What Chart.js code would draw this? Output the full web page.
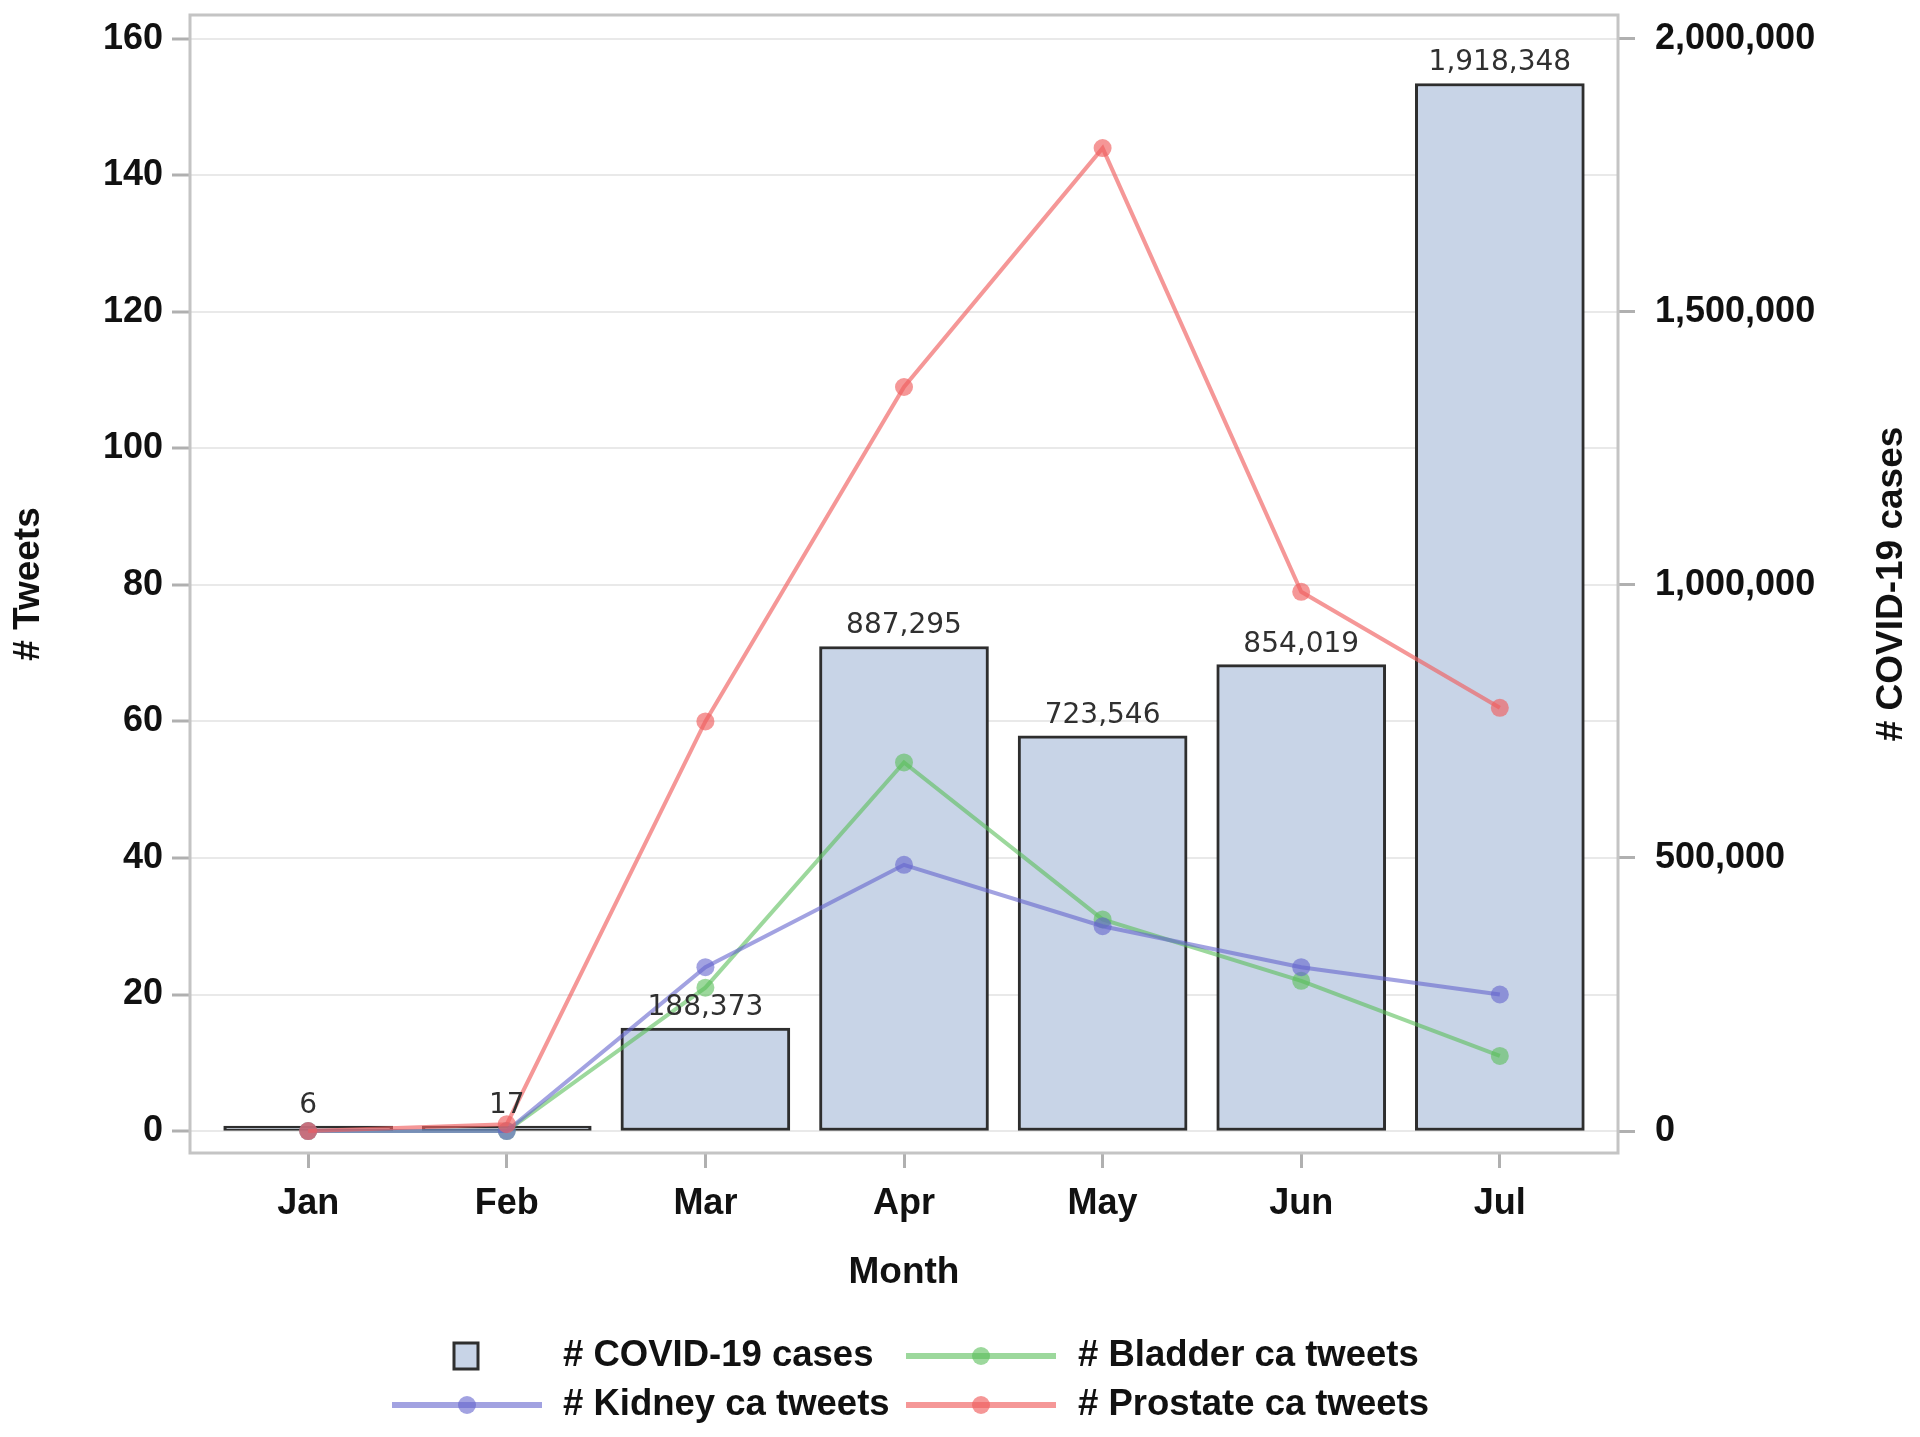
<!DOCTYPE html>
<html>
<head>
<meta charset="utf-8">
<script src="https://cdn.jsdelivr.net/npm/chart.js@4.4.1/dist/chart.umd.min.js"></script>
<style>
  html, body { margin: 0; padding: 0; background: #fff; }
  #wrap { width: 1920px; height: 1437px; position: relative; }
</style>
</head>
<body>
<div id="wrap"><canvas id="chart"></canvas></div>
<script>
const MONTHS = ['Jan', 'Feb', 'Mar', 'Apr', 'May', 'Jun', 'Jul'];
const COVID_CASES = [6, 17, 188373, 887295, 723546, 854019, 1918348];
const BLADDER_TWEETS = [0, 0, 21, 54, 31, 22, 11];
const KIDNEY_TWEETS = [0, 0, 24, 39, 30, 24, 20];
const PROSTATE_TWEETS = [0, 1, 60, 109, 144, 79, 62];
const TWEET_TICKS = [0, 20, 40, 60, 80, 100, 120, 140, 160];
const CASE_TICKS = [0, 500000, 1000000, 1500000, 2000000];

const BAR_FILL = '#c8d4e7';
const BAR_EDGE = '#2e2e2e';
const RED = 'rgba(240, 96, 96, 0.65)';
const GREEN = 'rgba(90, 190, 90, 0.6)';
const BLUE = 'rgba(100, 100, 205, 0.6)';
const TEXT = '#111';
const FAMILY = 'Liberation Sans, Arial, sans-serif';
const TICK_FONT = { family: FAMILY, size: 36, weight: 'bold' };
const TITLE_FONT = { family: FAMILY, size: 37, weight: 'bold' };

const toPoints = (values) => values.map((v, i) => ({ x: i, y: v }));

// lower order is drawn on top
function lineSet(label, values, color, order) {
  return {
    type: 'line',
    label: label,
    data: toPoints(values),
    yAxisID: 'y',
    order: order,
    borderColor: color,
    borderWidth: 4,
    backgroundColor: color,
    pointBackgroundColor: color,
    pointBorderWidth: 0,
    pointRadius: 9,
    tension: 0,
  };
}

// plot frame round the chart area, plus the right axis title (reads bottom to top)
const framePlugin = {
  id: 'frame',
  beforeDatasetsDraw(chart) {
    const { ctx, chartArea: a } = chart;
    ctx.save();
    ctx.strokeStyle = '#c4c4c4';
    ctx.lineWidth = 3;
    ctx.strokeRect(a.left, a.top, a.right - a.left, a.bottom - a.top);
    ctx.translate(1892, (a.top + a.bottom) / 2);
    ctx.rotate(-Math.PI / 2);
    ctx.fillStyle = TEXT;
    ctx.font = 'bold 37px ' + FAMILY;
    ctx.textAlign = 'center';
    ctx.textBaseline = 'middle';
    ctx.fillText('# COVID-19 cases', 0, 0);
    ctx.restore();
  },
};

// value labels above the bars
const barLabelPlugin = {
  id: 'barLabels',
  afterDatasetsDraw(chart) {
    const { ctx } = chart;
    const meta = chart.getDatasetMeta(0);
    ctx.save();
    ctx.font = '28px "DejaVu Sans", sans-serif';
    ctx.fillStyle = '#303030';
    ctx.textAlign = 'center';
    ctx.textBaseline = 'alphabetic';
    meta.data.forEach((bar, i) => {
      ctx.fillText(COVID_CASES[i].toLocaleString('en-US'), bar.x, bar.y - 13);
    });
    ctx.restore();
  },
};

// 2 x 2 legend under the chart
const legendPlugin = {
  id: 'gridLegend',
  afterDraw(chart) {
    const { ctx } = chart;
    const ds = chart.data.datasets;
    const items = [
      { set: ds[0], sx: 466, tx: 563, y: 1356, box: true },
      { set: ds[1], sx: 981, tx: 1078, y: 1356 },
      { set: ds[2], sx: 467, tx: 563, y: 1405 },
      { set: ds[3], sx: 981, tx: 1078, y: 1405 },
    ];
    ctx.save();
    for (const it of items) {
      if (it.box) {
        ctx.fillStyle = BAR_FILL;
        ctx.strokeStyle = BAR_EDGE;
        ctx.lineWidth = 3;
        ctx.fillRect(it.sx - 12, it.y - 13, 24, 26);
        ctx.strokeRect(it.sx - 12, it.y - 13, 24, 26);
      } else {
        ctx.strokeStyle = it.set.borderColor;
        ctx.lineWidth = 6;
        ctx.beginPath();
        ctx.moveTo(it.sx - 75, it.y);
        ctx.lineTo(it.sx + 75, it.y);
        ctx.stroke();
        ctx.fillStyle = it.set.borderColor;
        ctx.beginPath();
        ctx.arc(it.sx, it.y, 9, 0, Math.PI * 2);
        ctx.fill();
      }
      ctx.fillStyle = TEXT;
      ctx.font = 'bold 36.5px ' + FAMILY;
      ctx.textAlign = 'left';
      ctx.textBaseline = 'middle';
      ctx.fillText(it.set.label, it.tx, it.y);
    }
    ctx.restore();
  },
};

const canvas = document.getElementById('chart');

new Chart(canvas, {
  data: {
    datasets: [
      {
        type: 'bar',
        label: '# COVID-19 cases',
        data: toPoints(COVID_CASES),
        yAxisID: 'y1',
        order: 3,
        backgroundColor: BAR_FILL,
        borderColor: BAR_EDGE,
        borderWidth: 3,
        borderSkipped: false,
        barThickness: 169,
        minBarLength: 5,
      },
      lineSet('# Bladder ca tweets', BLADDER_TWEETS, GREEN, 2),
      lineSet('# Kidney ca tweets', KIDNEY_TWEETS, BLUE, 1),
      lineSet('# Prostate ca tweets', PROSTATE_TWEETS, RED, 0),
    ],
  },
  options: {
    responsive: true,
    maintainAspectRatio: false,
    devicePixelRatio: 1,
    animation: false,
    layout: { padding: { top: 15, bottom: 142, left: 0, right: 0 } },
    plugins: {
      legend: { display: false },
      tooltip: { enabled: false },
    },
    scales: {
      x: {
        type: 'linear',
        offset: false,
        min: -0.595,
        max: 6.595,
        afterBuildTicks: (s) => { s.ticks = MONTHS.map((m, i) => ({ value: i })); },
        afterFit: (s) => { s.height = 142; s.paddingLeft = 0; s.paddingRight = 0; },
        ticks: {
          callback: (v) => MONTHS[v],
          font: TICK_FONT,
          color: TEXT,
          padding: 14,
          autoSkip: false,
          maxRotation: 0,
        },
        grid: { offset: false, drawOnChartArea: false, tickLength: 15, tickColor: '#b0b0b0', tickWidth: 3 },
        border: { display: false },
        title: { display: true, text: 'Month', font: TITLE_FONT, color: TEXT, padding: 0 },
      },
      y: {
        position: 'left',
        min: -3.22,
        max: 163.5,
        afterBuildTicks: (s) => { s.ticks = TWEET_TICKS.map((v) => ({ value: v })); },
        afterFit: (s) => { s.width = 190; s.paddingTop = 0; s.paddingBottom = 0; },
        ticks: { font: TICK_FONT, color: TEXT, padding: 9, autoSkip: false },
        grid: { color: '#e9e9e9', lineWidth: 2, tickLength: 18, tickColor: '#b0b0b0', tickWidth: 3 },
        border: { display: false },
        title: { display: true, text: '# Tweets', font: TITLE_FONT, color: TEXT, padding: { top: 7, bottom: 0 } },
      },
      y1: {
        position: 'right',
        min: -40250,
        max: 2043750,
        afterBuildTicks: (s) => { s.ticks = CASE_TICKS.map((v) => ({ value: v })); },
        afterFit: (s) => { s.width = 302; s.paddingTop = 0; s.paddingBottom = 0; },
        ticks: {
          callback: (v) => v.toLocaleString('en-US'),
          font: TICK_FONT,
          color: TEXT,
          padding: 20,
          autoSkip: false,
        },
        grid: { drawOnChartArea: false, tickLength: 17, tickColor: '#b0b0b0', tickWidth: 3 },
        border: { display: false },
        title: { display: false },
      },
    },
  },
  plugins: [framePlugin, barLabelPlugin, legendPlugin],
});
</script>
</body>
</html>
